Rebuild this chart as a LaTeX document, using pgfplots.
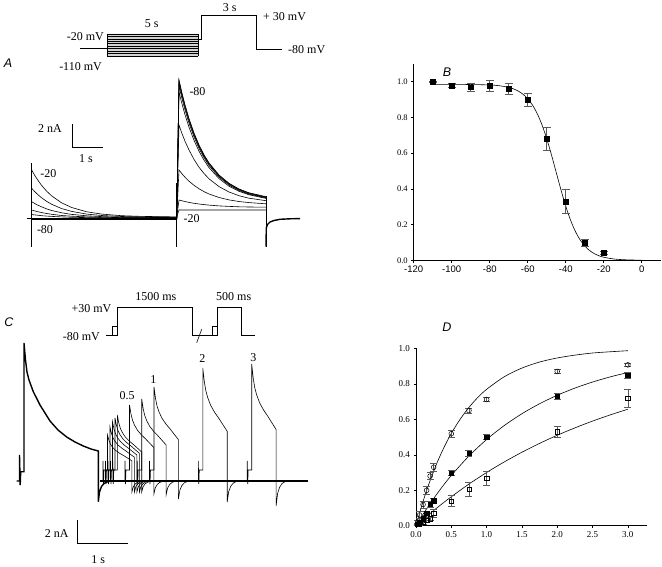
\documentclass[border=0pt]{standalone}
\usepackage{pgfplots}
\pgfplotsset{compat=1.18}
\usepackage{fontspec}
\setmainfont{Liberation Serif}
\setsansfont{Liberation Sans}
\pgfplotsset{
  tr/.style={black, line width=0.6pt, mark=none},
  trk/.style={black, line width=1.4pt, mark=none},
}
\tikzset{lab/.style={inner sep=0pt, font=\fontsize{12}{14}\selectfont},
  letter/.style={inner sep=0pt, font=\sffamily\itshape\fontsize{12.5}{14}\selectfont}}
\begin{document}
\begin{tikzpicture}
\useasboundingbox (0pt,0pt) rectangle (662pt,567pt);
\begin{axis}[name=canvas, at={(0pt,0pt)}, anchor=south west, scale only axis,
  width=662pt, height=567pt, xmin=0, xmax=662, ymin=0, ymax=567,
  y dir=reverse, hide axis, clip=false]
% ---------- Panel A protocol ----------
\addplot[fill=gray!35, draw=none] coordinates {(107,34)(198.3,34)(198.3,56)(107,56)(107,34)};
\addplot[tr] coordinates {(107,34)(107,56)};
\addplot[tr] coordinates {(198.3,34)(198.3,56)};
\addplot[tr] coordinates {(107,34)(198.3,34)};
\addplot[tr] coordinates {(107,36.44)(198.3,36.44)};
\addplot[tr] coordinates {(107,38.89)(198.3,38.89)};
\addplot[tr] coordinates {(107,41.33)(198.3,41.33)};
\addplot[tr] coordinates {(107,43.78)(198.3,43.78)};
\addplot[tr] coordinates {(107,46.22)(198.3,46.22)};
\addplot[tr] coordinates {(107,48.67)(198.3,48.67)};
\addplot[tr] coordinates {(107,51.11)(198.3,51.11)};
\addplot[tr] coordinates {(107,53.56)(198.3,53.56)};
\addplot[tr] coordinates {(107,56)(198.3,56)};
\addplot[tr] coordinates {(80,48.3)(107,48.3)};
\addplot[tr] coordinates {(198.3,39.3)(201,39.3)(201,15)(256,15)(256,49.3)(281.7,49.3)};
\node[lab, anchor=east] at (axis cs:104,36.7) {-20 mV};
\node[lab, anchor=east] at (axis cs:102,66.7) {-110 mV};
\node[lab] at (axis cs:151.7,24) {5 s};
\node[lab] at (axis cs:229.7,7.5) {3 s};
\node[lab, anchor=west] at (axis cs:263,16.7) {+ 30 mV};
\node[lab, anchor=west] at (axis cs:288,49.5) {-80 mV};
% ---------- Panel A scale bar ----------
\addplot[tr] coordinates {(72.7,124)(72.7,147.3)(102.7,147.3)};
\node[lab] at (axis cs:50,129) {2 nA};
\node[lab] at (axis cs:86,159) {1 s};
% ---------- Panel A traces ----------
\addplot[tr] coordinates {(31.7,163.3)(31.7,246.7)};
\addplot[tr] coordinates {(176.7,183)(176.7,246.7)};
\addplot[tr] coordinates {(266,196)(266,246.7)};
\addplot[trk] coordinates {(26.7,218.6)(31.7,218.6)};
\addplot[trk] coordinates {(31.7,218.9)(176.7,218.9)};
% -20
\addplot[tr] coordinates {(31.7,170)(34.7,175.3)(37.7,180.0)(41.7,185.5)(46.7,191.2)(51.7,195.9)(61.7,202.9)(71.7,207.5)(86.7,211.8)(101.7,214.1)(121.7,215.7)(141.7,216.4)(176.7,216.9)
 (179,210)(266,210)};
% -30
\addplot[tr] coordinates {(31.7,188.3)(34.7,191.6)(37.7,194.5)(41.7,197.9)(46.7,201.4)(51.7,204.3)(61.7,208.6)(71.7,211.4)(86.7,214.1)(101.7,215.5)(121.7,216.5)(141.7,216.9)(176.7,217.2)
 (179,200)(182,200.8)(185,201.5)(189,202.4)(194,203.3)(199,204.0)(204,204.6)(209,205.1)(219,205.9)(229,206.4)(239,206.8)(249,207.0)(266,207.2)};
% -40
\addplot[tr] coordinates {(31.7,201.7)(34.7,203.5)(37.7,205.1)(41.7,206.9)(46.7,208.9)(51.7,210.5)(61.7,212.8)(71.7,214.4)(86.7,215.8)(101.7,216.6)(121.7,217.2)(141.7,217.4)(176.7,217.6)
 (179,170)(182,173.8)(185,177.2)(189,181.2)(194,185.3)(199,188.8)(204,191.6)(209,194.0)(219,197.5)(229,199.9)(239,201.5)(249,202.6)(266,203.8)};
% -50
\addplot[tr] coordinates {(31.7,210)(34.7,210.9)(37.7,211.7)(41.7,212.6)(46.7,213.5)(51.7,214.3)(61.7,215.5)(71.7,216.2)(86.7,216.9)(101.7,217.3)(121.7,217.6)(141.7,217.7)(176.7,217.8)
 (179,125)(182,133.6)(185,141.2)(189,150.0)(194,159.4)(199,167.2)(204,173.5)(209,178.8)(219,186.6)(229,192.0)(239,195.7)(249,198.2)(266,200.7)};
% -60
\addplot[tr] coordinates {(31.7,214.5)(34.7,214.9)(37.7,215.2)(41.7,215.7)(46.7,216.1)(51.7,216.4)(61.7,216.9)(71.7,217.3)(86.7,217.6)(101.7,217.8)(121.7,217.9)(141.7,218)(176.7,218)
 (179,92)(182,104.0)(185,114.7)(189,127.2)(194,140.3)(199,151.2)(204,160.2)(209,167.6)(219,178.6)(229,186.2)(239,191.3)(249,194.8)(266,198.4)};
% -70 .. -110
\addplot[tr] coordinates {(176.7,218.4)(179,86)(182,98.6)(185,109.9)(189,123.0)(194,136.8)(199,148.3)(204,157.7)(209,165.5)(219,177.1)(229,185.1)(239,190.5)(249,194.1)(266,197.9)};
\addplot[tr] coordinates {(176.7,218.8)(179,83)(182,95.9)(185,107.4)(189,120.8)(194,134.9)(199,146.7)(204,156.3)(209,164.2)(219,176.1)(229,184.3)(239,189.8)(249,193.6)(266,197.4)};
\addplot[tr] coordinates {(176.7,219.1)(179,81)(182,94.1)(185,105.8)(189,119.4)(194,133.7)(199,145.6)(204,155.3)(209,163.4)(219,175.4)(229,183.7)(239,189.3)(249,193.1)(266,197.1)};
\addplot[tr] coordinates {(176.7,219.4)(179,80)(182,93.2)(185,104.9)(189,118.6)(194,133.0)(199,145.0)(204,154.8)(209,162.9)(219,175.0)(229,183.3)(239,189.0)(249,192.8)(266,196.7)};
\addplot[trk] coordinates {(266,246.7)(266.3,228)(267.5,224.5)(270,222)(274,220.5)(280,219.3)(290,218.8)(300,218.6)};
\node[lab] at (axis cs:48.3,174) {-20};
\node[lab] at (axis cs:45,229.7) {-80};
\node[lab] at (axis cs:191.7,218.7) {-20};
\node[lab] at (axis cs:197.5,92) {-80};
% ---------- Panel C protocol ----------
\addplot[tr] coordinates {(106,335)(117.3,335)(117.3,307.3)(192.7,307.3)(192.7,335)(217.3,335)(217.3,307.3)(241.7,307.3)(241.7,335)(255,335)};
\addplot[tr] coordinates {(112.7,335)(112.7,326.7)(117.3,326.7)};
\addplot[tr] coordinates {(212.3,335)(212.3,326.7)(217.3,326.7)};
\addplot[tr] coordinates {(196.7,342.7)(201.7,329.3)};
\node[lab, anchor=east] at (axis cs:111.5,308.7) {+30 mV};
\node[lab, anchor=east] at (axis cs:100,336.7) {-80 mV};
\node[lab] at (axis cs:155.8,297) {1500 ms};
\node[lab] at (axis cs:233.7,297) {500 ms};
% ---------- Panel C traces ----------
\addplot[trk] coordinates {(16.7,481)(19.5,481)(19.5,455)(20.2,485)(20.7,471.7)(24,471.7)(24,343)(25.5,360)(27,372)(29,380)(33.3,391.7)(40,405)(50,421)(58,430)(66.7,437)(75,442)(83.3,446)(91,449)(98.3,451)(98.3,501.7)(99.5,492)(101.5,486.5)(104,483.5)(108,481.5)(112,481)};
\addplot[trk] coordinates {(100,481)(308,481)};
\addplot[tr] coordinates {(103,481)(103,461)(103.5,484)(104,470)(107.5,470)(107.5,435)(109,440.5)(110.5,444.2)(112.5,447.2)(115.5,450.3)(119.5,453.2)(123.5,455.5)(127.5,458)(131.9,460.8)(131.9,492)(133.4,486.5)(135.4,483.8)(137.9,482.1)(141.9,481)};
\addplot[tr] coordinates {(105.5,481)(105.5,461)(106,484)(106.5,470)(110,470)(110,427)(111.5,433.5)(113,437.8)(115,441.3)(118,445.0)(122,448.3)(126,451.0)(130,454)(134.4,457.2)(134.4,492)(135.9,486.5)(137.9,483.8)(140.4,482.1)(144.4,481)};
\addplot[tr] coordinates {(108,481)(108,461)(108.5,484)(109,470)(112.5,470)(112.5,422)(114,429.1)(115.5,433.8)(117.5,437.6)(120.5,441.6)(124.5,445.3)(128.5,448.3)(132.5,451.5)(136.9,455.0)(136.9,492)(138.4,486.5)(140.4,483.8)(142.9,482.1)(146.9,481)};
\addplot[tr] coordinates {(110.5,481)(110.5,461)(111,484)(111.5,470)(115,470)(115,418)(116.5,425.6)(118,430.6)(120,434.7)(123,439.0)(127,442.9)(131,446.0)(135,449.5)(139.4,453.3)(139.4,492)(140.9,486.5)(142.9,483.8)(145.4,482.1)(149.4,481)};
\addplot[tr] coordinates {(112.8,481)(112.8,461)(113.3,484)(113.8,470)(117.3,470)(117.3,415)(118.8,422.9)(120.3,428.2)(122.3,432.5)(125.3,437.0)(129.3,441.1)(133.3,444.4)(137.3,448)(141.7,452.0)(141.7,492)(143.2,486.5)(145.2,483.8)(147.7,482.1)(151.7,481)};
\addplot[tr] coordinates {(125,481)(125,461)(125.5,484)(126,470)(129.5,470)(129.5,405)(131,414.1)(132.5,420.2)(134.5,425.1)(137.5,430.3)(141.5,435.0)(145.5,438.8)(149.5,443)(153.9,447.6)(153.9,494)(155.4,487.5)(157.4,484.3)(159.9,482.3)(163.9,481)};
\addplot[tr] coordinates {(137.2,481)(137.2,461)(137.7,484)(138.2,470)(141.7,470)(141.7,399)(143.2,408.8)(144.7,415.4)(146.7,420.7)(149.7,426.3)(153.7,431.4)(157.7,435.5)(161.7,440)(166.1,444.9)(166.1,495)(167.6,488)(169.6,484.5)(172.1,482.4)(176.1,481)};
\addplot[tr] coordinates {(149.5,481)(149.5,461)(150,484)(150.5,470)(154,470)(154,387)(155.5,398.3)(157,405.8)(159,411.9)(162,418.3)(166,424.1)(170,428.8)(174,434)(178.4,439.6)(178.4,499)(179.9,490)(181.9,485.5)(184.4,482.8)(188.4,481)};
\addplot[tr] coordinates {(198.3,481)(198.3,461)(198.8,484)(199.3,470)(202.8,470)(202.8,368)(204.3,381.6)(205.8,390.6)(207.8,397.9)(210.8,405.6)(214.8,412.6)(218.8,418.3)(222.8,424.5)(227.2,431.3)(227.2,502)(228.7,491.5)(230.7,486.3)(233.2,483.1)(237.2,481)};
\addplot[tr] coordinates {(247.2,481)(247.2,461)(247.7,484)(248.2,470)(251.7,470)(251.7,364)(253.2,378)(254.7,387.4)(256.7,395)(259.7,403)(263.7,410.2)(267.7,416.1)(271.7,422.5)(276.1,429.5)(276.1,506)(277.6,493.5)(279.6,487.3)(282.1,483.5)(286.1,481)};
\node[lab] at (axis cs:127,395.7) {0.5};
\node[lab] at (axis cs:153.3,379.5) {1};
\node[lab] at (axis cs:202.3,359) {2};
\node[lab] at (axis cs:253.3,357.3) {3};
% ---------- Panel C scale bar ----------
\addplot[tr] coordinates {(77.3,520)(77.3,543.3)(128.3,543.3)};
\node[lab] at (axis cs:56.7,533.3) {2 nA};
\node[lab] at (axis cs:98.3,560) {1 s};
% ---------- Panel letters ----------
\node[letter] at (axis cs:8,63) {A};
\node[letter] at (axis cs:447,72) {B};
\node[letter] at (axis cs:9,321.7) {C};
\node[letter] at (axis cs:447,327) {D};
\end{axis}
% ---------- Panel B ----------
\begin{axis}[at={(413.7pt,306.7pt)}, anchor=south west, scale only axis,
  width=247pt, height=196.5pt, xmin=-120, xmax=10, ymin=0, ymax=1.1,
  axis lines=left, axis line style={-, line width=0.6pt},
  tick align=outside, major tick length=2.5pt, tick style={black, line width=0.5pt},
  xtick={-120,-100,-80,-60,-40,-20,0}, xticklabels={-120,-100,-80,-60,-40,-20,0},
  ytick={0,0.2,0.4,0.6,0.8,1}, yticklabels={0.0,0.2,0.4,0.6,0.8,1.0},
  x tick label style={font=\sffamily\fontsize{9.5}{11}\selectfont},
  y tick label style={font=\fontsize{8.5}{10}\selectfont},
  clip=false]
\addplot[black, line width=0.6pt, mark=none, smooth] coordinates {(-110,0.985)(-100,0.985)(-90,0.984)(-80,0.9815)(-75,0.9773)(-70,0.9678)(-67.5,0.9595)(-65,0.9474)(-62.5,0.9297)(-60,0.9045)(-57.5,0.8692)(-55,0.8213)(-52.5,0.7587)(-50,0.6810)(-47.5,0.5905)(-45,0.4925)(-42.5,0.3946)(-40,0.3040)(-37.5,0.2263)(-35,0.1637)(-32.5,0.1158)(-30,0.0805)(-27.5,0.0553)(-25,0.0376)(-22.5,0.0255)(-20,0.0172)(-15,0.0078)(-10,0.0035)(-5,0.0016)(0,0.0007)};
\addplot[black, only marks, mark=square*, mark size=2.4pt,
  error bars/.cd, y dir=both, y explicit,
  error bar style={black!65, line width=0.6pt},
  error mark options={rotate=90, mark size=3.8pt, black!65, line width=0.6pt}]
  table[x index=0, y index=1, y error index=2] {
-110 1.000 0.004
-100 0.978 0.010
-90 0.969 0.022
-80 0.978 0.032
-70 0.959 0.030
-60 0.898 0.035
-50 0.679 0.065
-40 0.330 0.069
-30 0.098 0.021
-20 0.041 0.010
};
\end{axis}
% ---------- Panel D ----------
\begin{axis}[at={(416pt,41.3pt)}, anchor=south west, scale only axis,
  width=230.9pt, height=178pt, xmin=0, xmax=3.27, ymin=0, ymax=1.005,
  axis lines=left, axis line style={-, line width=0.6pt},
  tick align=outside, major tick length=2.5pt, tick style={black, line width=0.5pt},
  xtick={0,0.5,1,1.5,2,2.5,3}, xticklabels={0.0,0.5,1.0,1.5,2.0,2.5,3.0},
  ytick={0,0.2,0.4,0.6,0.8,1}, yticklabels={0.0,0.2,0.4,0.6,0.8,1.0},
  tick label style={font=\fontsize{9}{10}\selectfont},
  clip=false]
\addplot[black, line width=0.6pt, mark=none, smooth] coordinates {(0,0)(0.1,0.137)(0.2,0.255)(0.3,0.357)(0.4,0.445)(0.5,0.521)(0.625,0.601)(0.75,0.668)(0.875,0.724)(1,0.770)(1.25,0.841)(1.5,0.890)(1.75,0.924)(2,0.947)(2.25,0.963)(2.5,0.975)(2.75,0.982)(3,0.988)};
\addplot[black, line width=0.6pt, mark=none, smooth] coordinates {(0,0)(0.1,0.0645)(0.2,0.1248)(0.3,0.1813)(0.4,0.2341)(0.5,0.2835)(0.75,0.3935)(1,0.4866)(1.25,0.5654)(1.5,0.6321)(1.75,0.6886)(2,0.7364)(2.25,0.7769)(2.5,0.8111)(2.75,0.8401)(3,0.8647)};
\addplot[black, line width=0.6pt, mark=none, smooth] coordinates {(0,0)(0.1,0.0351)(0.2,0.0689)(0.3,0.1016)(0.4,0.1331)(0.5,0.1635)(0.75,0.2350)(1,0.3003)(1.25,0.3601)(1.5,0.4147)(1.75,0.4647)(2,0.5105)(2.25,0.5523)(2.5,0.5905)(2.75,0.6255)(3,0.6575)};
% open circles
\addplot[black, only marks, mark=o, mark size=2.4pt, mark options={fill=white, line width=0.5pt},
  error bars/.cd, y dir=both, y explicit,
  error bar style={black!65, line width=0.6pt},
  error mark options={rotate=90, mark size=3.5pt, black!65, line width=0.6pt}]
  table[x index=0, y index=1, y error index=2] {
0.025 0.02 0.01
0.05 0.06 0.02
0.1 0.12 0.02
0.15 0.20 0.02
0.2 0.28 0.02
0.25 0.33 0.025
0.5 0.519 0.02
0.75 0.650 0.015
1.0 0.712 0.012
2.0 0.871 0.010
3.0 0.908 0.010
};
% filled squares
\addplot[black, only marks, mark=square*, mark size=2.2pt,
  error bars/.cd, y dir=both, y explicit,
  error bar style={black!65, line width=0.6pt},
  error mark options={rotate=90, mark size=3.5pt, black!65, line width=0.6pt}]
  table[x index=0, y index=1, y error index=2] {
0.025 0.01 0.005
0.05 0.02 0.005
0.1 0.04 0.01
0.15 0.07 0.01
0.2 0.12 0.015
0.25 0.14 0.015
0.5 0.298 0.015
0.75 0.408 0.015
1.0 0.500 0.015
2.0 0.731 0.015
3.0 0.849 0.015
};
% open squares
\addplot[black, only marks, mark=square, mark size=2.2pt, mark options={fill=white, line width=0.5pt},
  error bars/.cd, y dir=both, y explicit,
  error bar style={black!65, line width=0.6pt},
  error mark options={rotate=90, mark size=3.5pt, black!65, line width=0.6pt}]
  table[x index=0, y index=1, y error index=2] {
0.05 0.01 0.005
0.1 0.02 0.01
0.15 0.03 0.01
0.2 0.04 0.01
0.25 0.07 0.02
0.5 0.139 0.03
0.75 0.206 0.04
1.0 0.268 0.04
2.0 0.530 0.03
3.0 0.719 0.05
};
\end{axis}
\end{tikzpicture}
\end{document}
